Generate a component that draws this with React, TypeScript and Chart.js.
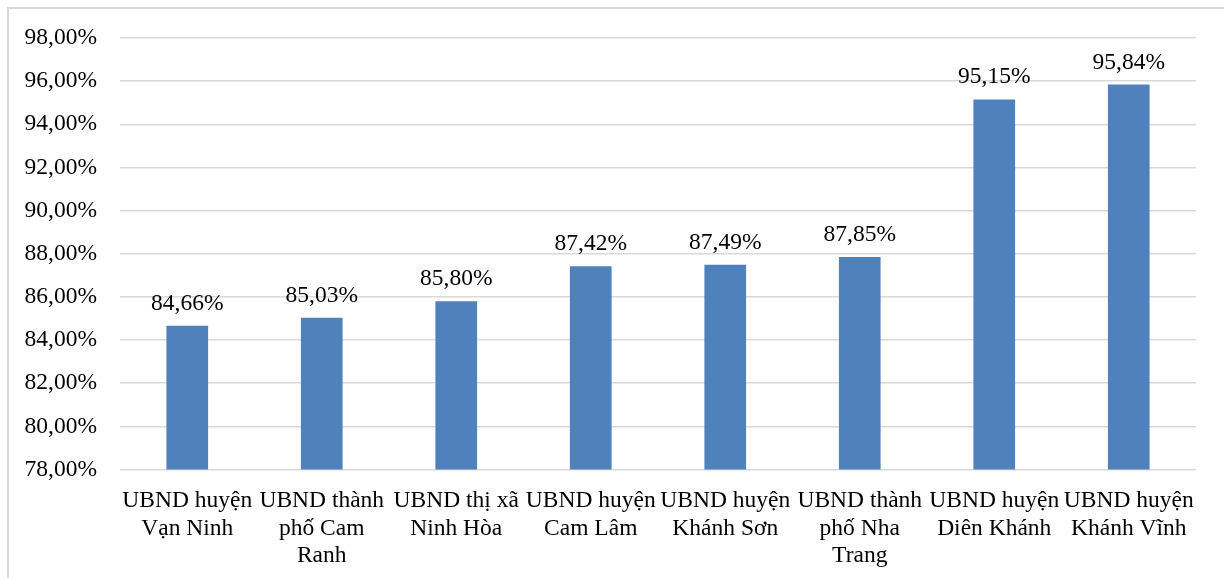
import React, { useEffect, useRef } from "react";
import { Chart, registerables } from "chart.js";

Chart.register(...registerables);

const categories: string[][] = [
  ["UBND huyện", "Vạn Ninh"],
  ["UBND thành", "phố Cam", "Ranh"],
  ["UBND thị xã", "Ninh Hòa"],
  ["UBND huyện", "Cam Lâm"],
  ["UBND huyện", "Khánh Sơn"],
  ["UBND thành", "phố Nha", "Trang"],
  ["UBND huyện", "Diên Khánh"],
  ["UBND huyện", "Khánh Vĩnh"],
];
const values: number[] = [84.66, 85.03, 85.8, 87.42, 87.49, 87.85, 95.15, 95.84];
const yMin = 78;
const yMax = 98;
const yStep = 2;

const FONT = "'Liberation Serif', 'Times New Roman', serif";
const FS = 23.5;
const fmt = (v: number) => v.toFixed(2).replace(".", ",") + "%";

const dataLabels = {
  id: "dataLabels",
  afterDatasetsDraw(chart: any) {
    const ctx = chart.ctx;
    const meta = chart.getDatasetMeta(0);
    ctx.save();
    ctx.font = `${FS}px ${FONT}`;
    ctx.fillStyle = "#000";
    ctx.textAlign = "center";
    ctx.textBaseline = "alphabetic";
    meta.data.forEach((el: any, i: number) => {
      ctx.fillText(fmt(values[i]), el.x, el.y - 16);
    });
    ctx.restore();
  },
};

export default function App() {
  const ref = useRef<HTMLCanvasElement>(null);
  useEffect(() => {
    if (!ref.current) return;
    const chart = new Chart(ref.current, {
      type: "bar",
      data: {
        labels: categories,
        datasets: [
          {
            data: values,
            backgroundColor: "#4F81BD",
            barPercentage: 0.31,
            categoryPercentage: 1,
          },
        ],
      },
      options: {
        animation: false,
        responsive: false,
        maintainAspectRatio: false,
        layout: { padding: { left: 0, right: 28, top: 38, bottom: 0 } },
        plugins: { legend: { display: false }, tooltip: { enabled: false } },
        scales: {
          x: {
            grid: { display: false, drawTicks: false },
            border: { display: false },
            ticks: {
              color: "#000",
              font: { family: FONT, size: FS, lineHeight: 1.16 },
              padding: 18,
              maxRotation: 0,
              minRotation: 0,
              autoSkip: false,
            },
            afterFit: (s: any) => {
              s.height = 108.5;
            },
          },
          y: {
            min: yMin,
            max: yMax,
            grid: { color: "#d9d9d9", lineWidth: 1.5, drawTicks: false },
            border: { display: false },
            ticks: {
              stepSize: yStep,
              color: "#000",
              font: { family: FONT, size: FS },
              padding: 23,
              callback: (v: any) => fmt(Number(v)),
            },
            afterFit: (s: any) => {
              s.width = 120;
            },
          },
        },
      },
      plugins: [dataLabels],
    });
    return () => chart.destroy();
  }, []);
  return (
    <div style={{ position: "fixed", left: 0, top: 0, width: 1224, height: 578, background: "#fff" }}>
      <div
        style={{
          position: "absolute",
          left: 7,
          top: 7,
          width: 1300,
          height: 700,
          borderTop: "2px solid #d9d9d9",
          borderLeft: "2px solid #d9d9d9",
        }}
      />
      <canvas
        ref={ref}
        width={1224}
        height={578}
        style={{ position: "absolute", left: 0, top: 0, width: 1224, height: 578 }}
      />
    </div>
  );
}
